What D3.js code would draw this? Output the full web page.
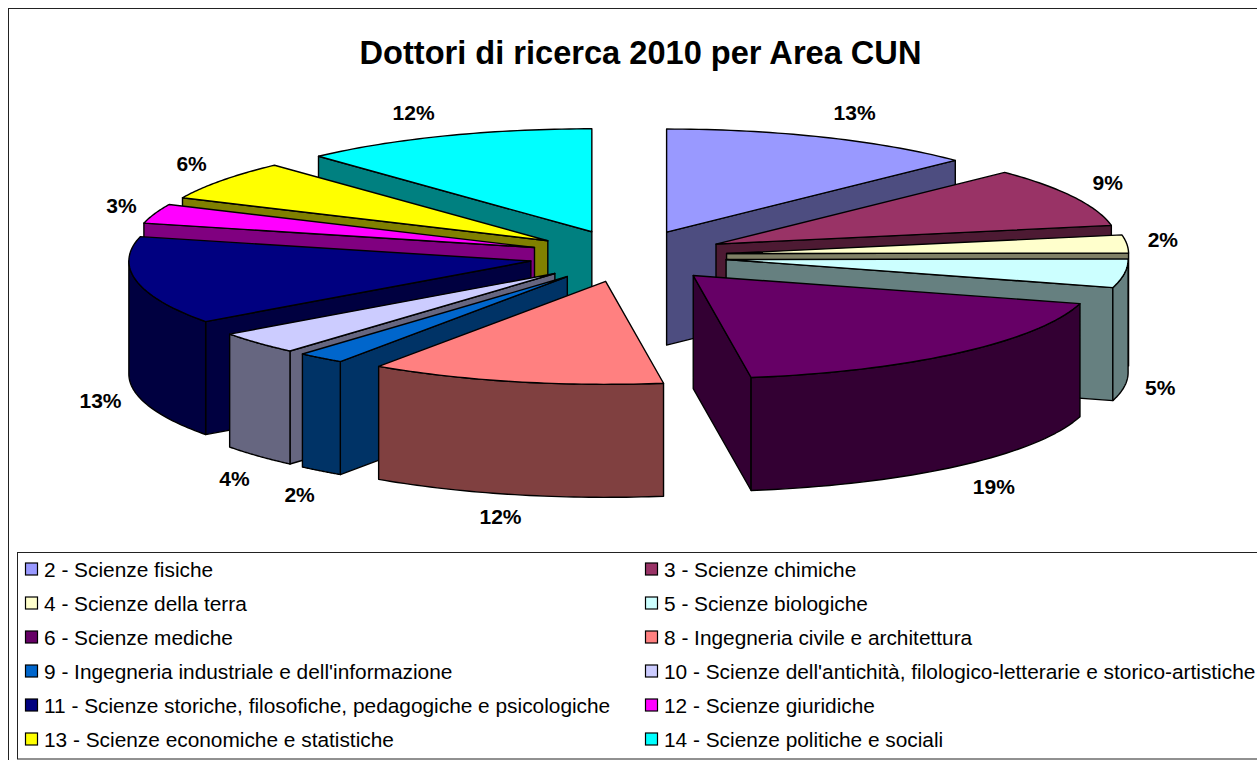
<!DOCTYPE html>
<html>
<head>
<meta charset="utf-8">
<script src="https://cdn.jsdelivr.net/npm/d3@7"></script>
<style>
  html, body { margin: 0; padding: 0; background: #fff; overflow: hidden; }
  text { font-family: "Liberation Sans", Arial, sans-serif; fill: #000; }
</style>
</head>
<body>
<div id="chart"></div>
<script>
const titleText = "Dottori di ricerca 2010 per Area CUN";

const categories = [
    "2 - Scienze fisiche",
    "3 - Scienze chimiche",
    "4 - Scienze della terra",
    "5 - Scienze biologiche",
    "6 - Scienze mediche",
    "8 - Ingegneria civile e architettura",
    "9 - Ingegneria industriale e dell'informazione",
    "10 - Scienze dell'antichità, filologico-letterarie e storico-artistiche",
    "11 - Scienze storiche, filosofiche, pedagogiche e psicologiche",
    "12 - Scienze giuridiche",
    "13 - Scienze economiche e statistiche",
    "14 - Scienze politiche e sociali"
];
// Share of the ellipse each slice covers as drawn (the 3D view bends the angles a bit)
const shares = [12.75, 9.35, 2.8, 4.5, 18.3, 11.85, 1.9, 3.55, 13.8, 3.05, 6.25, 11.9];
// Percentages as printed on the chart
const percentLabels = ["13%", "9%", "2%", "5%", "19%", "12%", "2%", "4%", "13%", "3%", "6%", "12%"];

const topColors = ["#9999ff", "#993366", "#ffffcc", "#ccffff", "#660066", "#ff8080",
                   "#0066cc", "#ccccff", "#000080", "#ff00ff", "#ffff00", "#00ffff"];
const sideColors = ["#4d4d80", "#4d1a33", "#808066", "#668080", "#330033", "#804040",
                    "#003366", "#666680", "#000040", "#800080", "#808000", "#008080"];

// Small shifts of the percent labels from their computed spot
const labelNudge = [[3, 0], [-30, -2], [-36, -1], [-36, -2], [-12, 2], [2, -3],
                    [23, 4], [30, 6], [35, 2], [35, 1], [28, -1], [-5, 1]];

const width = 1257, height = 760;
const cx = 628, cy = 256;
const rx = 402, ry = 103;
const depth = 113;
const explodeX = 99, explodeY = 26;

const svg = d3.select("#chart").append("svg")
    .attr("width", width)
    .attr("height", height)
    .style("display", "block");

// Outer frame and legend box run off the right side of the picture
svg.append("rect").attr("x", 8.5).attr("y", 8.5).attr("width", width + 20).attr("height", height + 20)
    .attr("fill", "#fff").attr("stroke", "#222").attr("stroke-width", 1);

svg.append("text")
    .attr("x", 640.5).attr("y", 64)
    .attr("text-anchor", "middle")
    .style("font-size", "32.6px")
    .style("font-weight", "bold")
    .text(titleText);

const pie = d3.pie().sort(null).value(d => d.share);
const slices = pie(categories.map((name, i) => ({ name, share: shares[i], i })));

const line = d3.line();

slices.forEach(s => {
    const mid = (s.startAngle + s.endAngle) / 2;
    s.mid = mid;
    s.ox = cx + explodeX * Math.sin(mid);
    s.oy = cy - explodeY * Math.cos(mid);
    s.rim = a => [s.ox + rx * Math.sin(a), s.oy - ry * Math.cos(a)];
    s.arcPoints = (a0, a1) => d3.range(0, 41).map(k => s.rim(a0 + (a1 - a0) * k / 40));
});

// Back slices first so the front ones cover them
const drawOrder = slices.slice().sort((a, b) => d3.descending(Math.cos(a.mid), Math.cos(b.mid)));

const pieG = svg.append("g")
    .attr("stroke", "#000")
    .attr("stroke-width", 1.4)
    .attr("stroke-linejoin", "round");

drawOrder.forEach(s => {
    const g = pieG.append("g");
    const top = [s.ox, s.oy];
    const down = p => [p[0], p[1] + depth];

    // Radial walls, only the ones that face the viewer
    [[s.startAngle, Math.sin(s.startAngle) < -1e-6], [s.endAngle, Math.sin(s.endAngle) > 1e-6]]
        .filter(w => w[1])
        .forEach(w => {
            const edge = s.rim(w[0]);
            g.append("path")
                .attr("d", line([top, edge, down(edge), down(top)]) + "Z")
                .attr("fill", sideColors[s.data.i]);
        });

    // Outer wall for the part of the rim on the front half
    const a0 = Math.max(s.startAngle, Math.PI / 2);
    const a1 = Math.min(s.endAngle, Math.PI * 3 / 2);
    if (a1 > a0) {
        const rim = s.arcPoints(a0, a1);
        g.append("path")
            .attr("d", line(rim.concat(rim.slice().reverse().map(down))) + "Z")
            .attr("fill", sideColors[s.data.i]);
    }

    // Top face
    g.append("path")
        .attr("d", line([top].concat(s.arcPoints(s.startAngle, s.endAngle))) + "Z")
        .attr("fill", topColors[s.data.i]);
});

// Percent labels
svg.append("g").selectAll("text")
    .data(slices)
    .join("text")
    .attr("x", s => s.ox + 1.18 * rx * Math.sin(s.mid) + labelNudge[s.data.i][0])
    .attr("y", s => s.oy - 1.25 * ry * Math.cos(s.mid) + (Math.cos(s.mid) < 0 ? depth : 0) + 7 + labelNudge[s.data.i][1])
    .attr("text-anchor", "middle")
    .style("font-size", "21px")
    .style("font-weight", "bold")
    .text(s => percentLabels[s.data.i]);

// Legend
svg.append("rect").attr("x", 17.5).attr("y", 552.5).attr("width", width).attr("height", 206.5)
    .attr("fill", "#fff").attr("stroke", "#222").attr("stroke-width", 1);

const colX = d3.scaleOrdinal().domain([0, 1]).range([25.5, 645.5]);
const rowY = d3.scalePoint().domain(d3.range(6)).range([569, 739]);

const legend = svg.append("g").selectAll("g")
    .data(categories)
    .join("g")
    .attr("transform", (d, i) => `translate(${colX(i % 2)},${rowY(Math.floor(i / 2))})`);

legend.append("rect")
    .attr("x", 0).attr("y", -6).attr("width", 12).attr("height", 12)
    .attr("fill", (d, i) => topColors[i])
    .attr("stroke", "#000")
    .attr("stroke-width", 1.2);

legend.append("text")
    .attr("x", 18.5).attr("y", 7.5)
    .style("font-size", "20.85px")
    .text(d => d);
</script>
</body>
</html>
